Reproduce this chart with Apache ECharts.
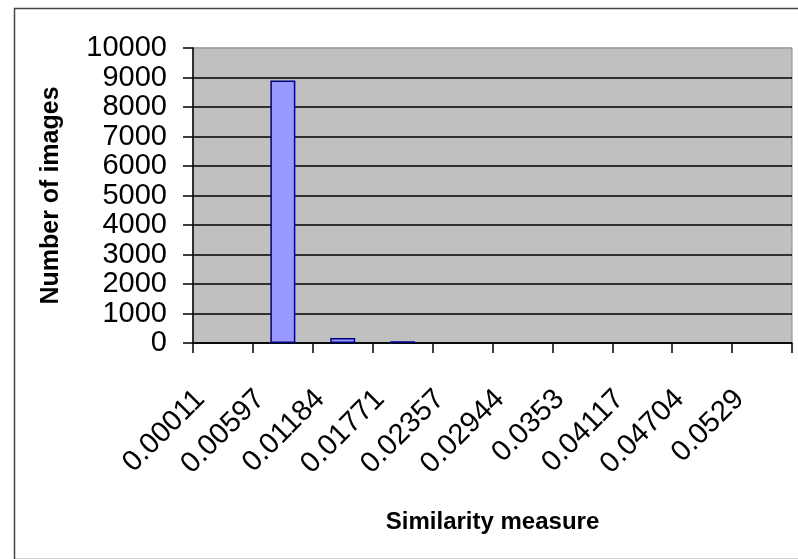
<!DOCTYPE html>
<html>
<head>
<meta charset="utf-8">
<script src="https://cdn.jsdelivr.net/npm/echarts@6/dist/echarts.min.js"></script>
<style>
html,body{margin:0;padding:0;background:#fff;}
#chart{width:798px;height:559px;}
</style>
</head>
<body>
<div id="chart"></div>
<script>
const categories = ['0.00011','0.00597','0.01184','0.01771','0.02357','0.02944','0.0353','0.04117','0.04704','0.0529'];
const counts = [0, 8900, 170, 60, 0, 0, 0, 0, 0, 0];
const yMin = 0, yMax = 10000, yStep = 1000;
const xTitle = 'Similarity measure';
const yTitle = 'Number of images';

const font = 'Arial, "Liberation Sans", sans-serif';
const chart = echarts.init(document.getElementById('chart'));
const gridColors = [];
for (let v = yMin; v <= yMax; v += yStep) gridColors.push(v === yMax ? '#a0a0a0' : '#000000');

chart.setOption({
  animation: false,
  backgroundColor: '#ffffff',
  graphic: [{
    type: 'rect', left: 12, top: 6, silent: true,
    shape: { x: 0, y: 0, width: 800, height: 551 },
    style: { fill: 'none', stroke: '#444', lineWidth: 1.5 }
  }],
  grid: {
    left: 193, top: 48, right: 6, bottom: 216,
    show: true, backgroundColor: '#c0c0c0', borderColor: '#8a8a8a', borderWidth: 1
  },
  xAxis: {
    type: 'category',
    data: categories,
    boundaryGap: true,
    name: xTitle,
    nameLocation: 'middle',
    nameGap: 167,
    nameTextStyle: { fontFamily: font, fontSize: 24, fontWeight: 'bold', color: '#000' },
    axisLine: { show: true, lineStyle: { color: '#000', width: 1.5 } },
    axisTick: { show: true, interval: 0, length: 10, lineStyle: { color: '#000', width: 1.5 } },
    axisLabel: {
      interval: 0, rotate: 45, margin: 29, padding: [0, 32, 0, 0],
      fontFamily: font, fontSize: 29, color: '#000', hideOverlap: false
    },
    splitLine: { show: false }
  },
  yAxis: {
    type: 'value',
    min: yMin, max: yMax, interval: yStep,
    name: yTitle,
    nameLocation: 'middle',
    nameGap: 129,
    nameTextStyle: { fontFamily: font, fontSize: 25, fontWeight: 'bold', color: '#000' },
    axisLine: { show: true, lineStyle: { color: '#000', width: 1.5 } },
    axisTick: { show: true, length: 10, lineStyle: { color: '#000', width: 1.5 } },
    axisLabel: {
      margin: 26, fontFamily: font, fontSize: 29, color: '#000',
      showMinLabel: true, showMaxLabel: true, hideOverlap: false,
      formatter: v => String(v)
    },
    splitLine: { show: true, lineStyle: { color: gridColors, width: 1.5 } }
  },
  series: [{
    type: 'bar',
    data: counts.map(v => (v === 0 ? null : v)),
    barWidth: 25,
    itemStyle: { color: '#9999ff', borderColor: '#000080', borderWidth: 1.5 }
  }]
});
</script>
</body>
</html>
